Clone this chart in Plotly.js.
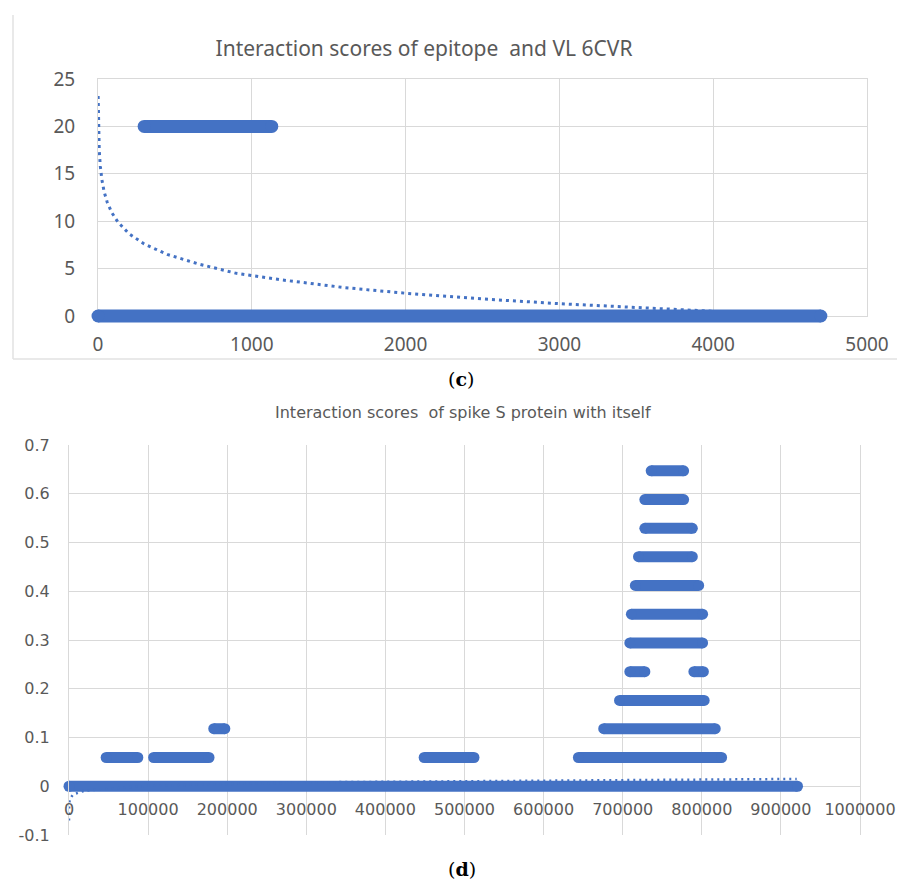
<!DOCTYPE html>
<html><head><meta charset="utf-8">
<script src="https://cdn.plot.ly/plotly-3.0.1.min.js"></script>
<style>html,body{margin:0;padding:0;background:#fff}#chart{width:897px;height:882px}</style>
</head><body><div id="chart"></div>
<script>
// ================= DATA: chart (c) =================
const cTitle = "Interaction scores of epitope\u00a0 and VL 6CVR";
const cLabel = "(<b>c</b>)";
const cSegStart = [0, 300];
const cSegEnd = [4700, 1130];
const cSegY = [0, 20];
const cTrendX = [1, 2, 4, 8, 15, 25, 40, 60, 90, 130, 200, 300, 450, 650, 900, 1200, 1600, 2000, 2500, 3000, 3500, 4000, 4060];
const cTrendY = [23.2, 21.3, 19.4, 17.5, 15.8, 14.4, 13.1, 12.0, 10.9, 9.9, 8.7, 7.6, 6.5, 5.5, 4.5, 3.8, 3.0, 2.4, 1.8, 1.3, 0.9, 0.5, 0.45];
const cXTickVals = [0, 1000, 2000, 3000, 4000, 5000];
const cXTickText = ["0", "1000", "2000", "3000", "4000", "5000"];
const cYTickVals = [0, 5, 10, 15, 20, 25];
const cYTickText = ["0", "5", "10", "15", "20", "25"];

// ================= DATA: chart (d) =================
const dTitle = "Interaction scores\u00a0 of spike S protein with itself";
const dLabel = "(<b>d</b>)";
const dSegY     = [0,      0.059, 0.059,  0.059,  0.059,  0.118,  0.118,  0.176,  0.235,  0.235,  0.294,  0.353,  0.412,  0.471,  0.529,  0.588,  0.647];
const dSegStart = [0,      47000, 107000, 449000, 644000, 183000, 676000, 696000, 709000, 790000, 709000, 711000, 716000, 720000, 728000, 728000, 736000];
const dSegEnd   = [921000, 87000, 177000, 512000, 825000, 197000, 817000, 803000, 728000, 802000, 801000, 801000, 796000, 788000, 788000, 777000, 777000];
const dTrendX = [1, 2, 5, 10, 50, 200, 1000, 5000, 20000, 100000, 300000, 600000, 920000];
const dTrendY = [-0.07, -0.066, -0.06, -0.056, -0.046, -0.037, -0.027, -0.017, -0.009, 0.001, 0.008, 0.012, 0.015];
const dXTickVals = [0, 100000, 200000, 300000, 400000, 500000, 600000, 700000, 800000, 900000, 1000000];
const dXTickText = ["0", "100000", "200000", "300000", "400000", "500000", "600000", "700000", "800000", "900000", "1000000"];
const dYTickVals = [-0.1, 0, 0.1, 0.2, 0.3, 0.4, 0.5, 0.6, 0.7];
const dYTickText = ["-0.1", "0", "0.1", "0.2", "0.3", "0.4", "0.5", "0.6", "0.7"];

// ================= LAYOUT HELPERS =================
const W = 897, H = 882;
const fx = p => p / W;
const fy = p => (H - p) / H;
const cBox = {l: 98, r: 867, t: 79, b: 316};
const dBox = {l: 69, r: 860, t: 445, b: 835};
const dZeroPx = 787;
const pad = 16;
const blue = '#4472C4';
const grid = '#d9d9d9';
const txt = '#595959';

function segs(x0, x1, y) {
  const X = [], Y = [];
  for (let i = 0; i < y.length; i++) { X.push(x0[i], x1[i], null); Y.push(y[i], y[i], null); }
  return {X, Y};
}
const cS = segs(cSegStart, cSegEnd, cSegY);
const dS = segs(dSegStart, dSegEnd, dSegY);

const cXmax = cXTickVals[cXTickVals.length - 1];
const cYmax = cYTickVals[cYTickVals.length - 1];

const traces = [
  {x: cTrendX, y: cTrendY, xaxis: 'x', yaxis: 'y', mode: 'lines', type: 'scatter',
   line: {color: blue, width: 3, dash: '3px,4px'}, hoverinfo: 'skip'},
  {x: dS.X, y: dS.Y, xaxis: 'x2', yaxis: 'y2', mode: 'lines+markers', type: 'scatter', connectgaps: false,
   line: {color: blue, width: 11}, marker: {color: blue, size: 11}, cliponaxis: false, hoverinfo: 'skip'},
  {x: dTrendX, y: dTrendY, xaxis: 'x2', yaxis: 'y2', mode: 'lines', type: 'scatter',
   line: {color: blue, width: 2.5, dash: '2px,4px'}, cliponaxis: false, hoverinfo: 'skip'},
  {x: cS.X, y: cS.Y, xaxis: 'x3', yaxis: 'y3', mode: 'lines+markers', type: 'scatter', connectgaps: false,
   line: {color: blue, width: 13}, marker: {color: blue, size: 13}, cliponaxis: false, hoverinfo: 'skip'}
];

const cFont = {family: 'Noto Sans, Open Sans, sans-serif', size: 19, color: txt};
const dFont = {family: 'DejaVu Sans, sans-serif', size: 16, color: txt};

const layout = {
  width: W, height: H,
  margin: {l: 0, r: 0, t: 0, b: 0},
  paper_bgcolor: '#ffffff', plot_bgcolor: 'rgba(0,0,0,0)',
  showlegend: false, hovermode: false,
  title: {text: cTitle, xref: 'paper', yref: 'paper', x: fx(424), y: fy(49), xanchor: 'center', yanchor: 'middle',
          font: {family: 'Noto Sans, Open Sans, sans-serif', size: 21, color: txt}},
  xaxis: {domain: [fx(cBox.l), fx(cBox.r)], range: [0, cXmax], anchor: 'y',
          tickmode: 'array', tickvals: cXTickVals, ticktext: cXTickText, tickfont: cFont, ticks: '',
          ticklabelstandoff: 11,
          showgrid: true, gridcolor: grid, gridwidth: 1, zeroline: true, zerolinecolor: grid, zerolinewidth: 1,
          showline: true, mirror: true, linecolor: grid, linewidth: 1, fixedrange: true},
  yaxis: {domain: [fy(cBox.b), fy(cBox.t)], range: [0, cYmax], anchor: 'x',
          tickmode: 'array', tickvals: cYTickVals, ticktext: cYTickText, tickfont: cFont, ticks: '',
          ticklabelstandoff: 18,
          showgrid: true, gridcolor: grid, gridwidth: 1, zeroline: true, zerolinecolor: grid, zerolinewidth: 1,
          showline: true, mirror: true, linecolor: grid, linewidth: 1, fixedrange: true},
  xaxis3: {domain: [fx(cBox.l - pad), fx(cBox.r)], range: [-pad * cXmax / (cBox.r - cBox.l), cXmax], anchor: 'y3',
           visible: false, showgrid: false, zeroline: false, fixedrange: true},
  yaxis3: {domain: [fy(cBox.b + pad), fy(cBox.t)], range: [-pad * cYmax / (cBox.b - cBox.t), cYmax], anchor: 'x3',
           visible: false, showgrid: false, zeroline: false, fixedrange: true},
  xaxis2: {domain: [fx(dBox.l), fx(dBox.r)], range: [0, 1000000], anchor: 'free', position: fy(dZeroPx),
           tickmode: 'array', tickvals: dXTickVals, ticktext: dXTickText, tickfont: dFont, ticks: '',
           ticklabelstandoff: 11,
           showgrid: true, gridcolor: grid, gridwidth: 1, zeroline: true, zerolinecolor: grid, zerolinewidth: 1,
           showline: false, fixedrange: true},
  yaxis2: {domain: [fy(dBox.b), fy(dBox.t)], range: [-0.1, 0.7], anchor: 'x2',
           tickmode: 'array', tickvals: dYTickVals, ticktext: dYTickText, tickfont: dFont, ticks: '',
           ticklabelstandoff: 15,
           showgrid: true, gridcolor: grid, gridwidth: 1, zeroline: true, zerolinecolor: grid, zerolinewidth: 1,
           showline: true, mirror: true, linecolor: grid, linewidth: 1, fixedrange: true},
  annotations: [
    {text: dTitle, xref: 'paper', yref: 'paper', x: fx(463), y: fy(412), xanchor: 'center', yanchor: 'middle',
     showarrow: false, font: {family: 'DejaVu Sans, sans-serif', size: 16, color: txt}},
    {text: cLabel, xref: 'paper', yref: 'paper', x: fx(461), y: fy(379), xanchor: 'center', yanchor: 'middle',
     showarrow: false, font: {family: 'DejaVu Serif, serif', size: 19, color: '#000'}},
    {text: dLabel, xref: 'paper', yref: 'paper', x: fx(462), y: fy(869), xanchor: 'center', yanchor: 'middle',
     showarrow: false, font: {family: 'DejaVu Serif, serif', size: 19, color: '#000'}}
  ],
  shapes: [
    {type: 'line', xref: 'paper', yref: 'paper', x0: fx(13), x1: fx(13), y0: fy(15), y1: fy(359),
     line: {color: '#e2e2e2', width: 1.5}},
    {type: 'line', xref: 'paper', yref: 'paper', x0: fx(13), x1: 1, y0: fy(359), y1: fy(359),
     line: {color: '#e2e2e2', width: 1.5}}
  ]
};

Plotly.newPlot('chart', traces, layout, {displayModeBar: false, staticPlot: true});
</script>
</body></html>
